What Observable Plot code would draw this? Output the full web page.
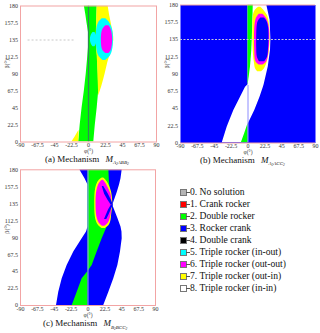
<!DOCTYPE html>
<html><head><meta charset="utf-8">
<script src="https://cdn.jsdelivr.net/npm/d3@7"></script>
<script src="https://cdn.jsdelivr.net/npm/@observablehq/plot@0.6"></script>
<style>
body{margin:0;background:#fff;}
#root{position:relative;width:320px;height:333px;overflow:hidden;font-family:"Liberation Serif","Times New Roman",serif;color:#111;}
.pan{position:absolute;}
.cap{position:absolute;font-size:9px;line-height:7px;white-space:nowrap;}
.cap i{font-style:italic;margin-left:4px;}
.sub{font-size:5px;position:relative;top:2.5px;font-style:italic;}
.sub2{font-size:3.5px;position:relative;top:1px;}
.leg{position:absolute;left:180px;font-size:9.6px;line-height:10px;white-space:nowrap;height:10px;}
.leg .sw{position:absolute;left:0;top:2px;width:5px;height:5px;border:0.6px solid #777;}
.leg .ln{position:absolute;left:6px;top:5px;width:4px;height:0;border-top:0.8px solid #555;}
.leg .tx{position:absolute;left:10px;top:0;}
</style></head>
<body><div id="root"></div>
<script>
const xTicks = [-90, -67.5, -45, -22.5, 0, 22.5, 45, 67.5, 90];
const yTicks = [0, 22.5, 45, 67.5, 90, 112.5, 135, 157.5, 180];
const legendLabels = ["0. No solution","1. Crank rocker","2. Double rocker","3. Rocker crank","4. Double crank","5. Triple rocker (in-out)","6. Triple rocker (out-out)","7. Triple rocker (out-in)","8. Triple rocker (in-in)"];
const legendColors = ["#b4b4b4","#ff0000","#00ff00","#0000ff","#000000","#00ffff","#ff00ff","#ffff00","#ffffff"];
const captions = ["(a) Mechanism", "(b) Mechanism", "(c) Mechanism"];
const capSubs = [["A","2","ABB","2"],["A","2","ACC","2"],["B","2","BCC","2"]];

// Panel (a): beta rows, left/right phi edges
const aGreenB = [0, 22.5, 45, 67.5, 90, 112.5, 125, 135, 145, 157.5, 168, 180];
const aGreenL = [-13, -11, -8.5, -5.5, -3, -1, 0, 0.5, 0, -2, -3.5, -5.5];
const aGreenR = [7, 9, 11.5, 13.5, 13, 12, 11, 11, 11, 11, 11.2, 11.5];
const aYel2B = [0, 7, 15];
const aYel2L = [-22, -17.5, -13];
const aYel2R = [-13, -12.5, -12.5];
const aYelB = [62, 75, 90, 105, 120, 135, 150, 165, 180];
const aYelL = [13.5, 13, 12.5, 12, 11, 10, 10.5, 11, 11.5];
const aYelR = [14, 18, 22, 25.5, 30, 33.5, 31.5, 28.5, 26];
const aCyanB = [108, 113, 120, 128, 135, 143, 150, 157, 163];
const aCyanL = [19, 14, 11.5, 10.5, 10, 10.3, 11, 13, 18];
const aCyanR = [23, 28.5, 31.5, 32.8, 33, 32.8, 31.5, 28.5, 23];
const aMagB = [117, 121, 128, 135, 142, 149, 154];
const aMagL = [23, 19, 17.3, 17, 17.3, 19, 23];
const aMagR = [27, 30, 31.5, 32, 31.5, 30, 27];
const aCyan2B = [126, 130, 135.5, 141, 145];
const aCyan2L = [6, 3.5, 2.5, 3.5, 6];
const aCyan2R = [8.5, 10.5, 11, 10.5, 8.5];
const aDashPhi = [-80, -18];
const refBeta = 135;

// Panel (b)
const bWhiteB = [0, 20.6, 25, 42.4, 59.7, 72.7, 76, 99, 121, 135, 160, 180];
const bWhiteL = [-34.4, -27.8, -26, -18.9, -10, -3.3, 0, 0, 0, 0, 0, 0];
const bWhiteR = [0, 0, 0.5, 9, 16, 20.5, 21.5, 27, 30, 30.5, 29.5, 25];
const bGreenB = [76, 82, 99, 120, 135, 160, 180];
const bGreenL = [0, 0, 0, 0, 0, 0, 0];
const bGreenR = [0, 1, 3.3, 5, 5.7, 6.5, 7];
const bGreen2B = [0, 12, 25];
const bGreen2L = [-9, -4.5, 0];
const bGreen2R = [0, 0, 0];
const bYelB = [93, 97, 105, 120, 135, 150, 165, 172, 177];
const bYelL = [13, 10, 8.5, 7, 6.5, 6.5, 7, 9, 14];
const bYelR = [18, 22, 25.5, 28.5, 29.5, 29, 26.5, 22, 17];
const bMagB = [101.7, 106, 120, 135, 150, 162, 168];
const bMagL = [15, 10.5, 9, 8.7, 9, 11, 15];
const bMagR = [20, 25, 28, 29, 28.5, 25, 20];
const bInB = [106, 112, 125, 135, 150, 158, 163];
const bInL = [15.5, 12.5, 11.6, 11.6, 12, 13.5, 17];
const bInR = [22, 26, 27.5, 28, 27.5, 25.5, 22];
const bLineB = [0, 75];

// Panel (c)
const cBlueB = [0, 17.7, 35.5, 53, 71, 88.7, 97.6, 104, 115, 133, 150, 160, 168, 180];
const cBlueL = [-42, -39, -34.4, -27.8, -19, -7.8, -2, 0, 0, 0, 0, 0, -4, -11];
const cBlueR = [21, 27.8, 34.4, 39.8, 43.3, 45.6, 45.3, 44, 40, 33, 39, 42, 44, 45.6];
const cGreenLoB = [0, 17.7, 35.5, 45];
const cGreenLoL = [-21, -14.4, -7.8, 0];
const cGreenLoR = [0, 0, 0, 0];
const cGreenUpB = [45, 53, 71, 88.7, 102, 115, 133, 150, 165, 180];
const cGreenUpL = [0, 0, 0, 0, 0, 0, 0, 0, 0, 0];
const cGreenUpR = [0, 5.6, 12.2, 18.9, 24.7, 29, 33, 30, 28.5, 27.8];
const cYelB = [102, 106, 112, 120, 135, 150, 160, 166, 169];
const cYelL = [19, 14, 11, 9.5, 9, 9.5, 11.5, 15, 19];
const cYelR = [23, 28, 30.5, 31.5, 33, 31.5, 28, 24, 21];
const cMagB = [105, 109, 115, 122, 135, 148, 157, 163, 166];
const cMagL = [19.5, 15, 12.5, 11.2, 10.7, 11.2, 13, 16, 19];
const cMagR = [22.5, 27, 29.5, 31, 32, 30.5, 26.5, 23, 20.5];
const cTonUpB = [133, 140, 148, 158];
const cTonUpL = [31, 26.5, 22, 19];
const cTonUpR = [34, 31, 27, 21];
const cTonLoB = [114, 120, 127, 133];
const cTonLoL = [22, 24.5, 27.5, 31];
const cTonLoR = [25, 28, 31, 34];
const cLineB = [0, 180];

const PINK = "#f2a4a4";
const C = legendColors;
const rows = (b, l, r) => b.map((v, i) => ({b: v, l: l[i], r: r[i]}));
const band = (b, l, r, fill, curve = "linear") =>
  Plot.areaX(rows(b, l, r), {y: "b", x1: "l", x2: "r", fill, curve, clip: true});
const vline = (bb, stroke, w) =>
  Plot.ruleX([{x: 0, y1: bb[0], y2: bb[1]}], {x: "x", y1: "y1", y2: "y2", stroke, strokeWidth: w, clip: true});

function panel(o, marks) {
  return Plot.plot({
    width: 160, height: o.height,
    marginLeft: 20, marginRight: o.mr, marginTop: o.mt, marginBottom: 14.5,
    style: {fontFamily: "Liberation Serif, Times New Roman, serif", fontSize: "6px", background: "transparent", color: "#333", overflow: "visible"},
    x: {domain: [-90, 90], ticks: xTicks, tickFormat: d => String(d), tickSize: 0, tickPadding: o.xp, label: null},
    y: {domain: [0, 180], ticks: yTicks, tickFormat: d => String(d), tickSize: 0, tickPadding: 2.5, label: null},
    marks: [
      ...marks,
      Plot.text(["φ(°)"], {text: d => d, frameAnchor: "bottom", dy: o.ld, fontSize: 5.5, fill: "#333"}),
      Plot.text(["β(°)"], {text: d => d, frameAnchor: "left", dx: -13, dy: o.yd, rotate: -90, fontSize: 6, fill: "#333"})
    ]
  });
}

const root = document.getElementById("root");
function place(el, left, top) { el.classList.add("pan"); el.style.left = left + "px"; el.style.top = top + "px"; root.appendChild(el); }

const pa = panel({height: 156, mr: 4, mt: 5.5, xp: 1, ld: 10.7, yd: -5.5}, [
  band(aGreenB, aGreenL, aGreenR, C[2]),
  band(aYel2B, aYel2L, aYel2R, C[7]),
  band(aYelB, aYelL, aYelR, C[7], "catmull-rom"),
  band(aCyanB, aCyanL, aCyanR, C[5], "catmull-rom"),
  band(aMagB, aMagL, aMagR, C[6], "catmull-rom"),
  band(aCyan2B, aCyan2L, aCyan2R, C[5], "catmull-rom"),
  vline([0, 180], "#2f8a55", 1.3),
  Plot.ruleY([{y: refBeta, x1: aDashPhi[0], x2: aDashPhi[1]}], {y: "y", x1: "x1", x2: "x2", stroke: "#c8c8c8", strokeDasharray: "2,2"}),
  Plot.frame({stroke: PINK})
]);
place(pa, 0, 0);

const pb = panel({height: 157, mr: 5, mt: 4.5, xp: 0.5, ld: 11.2, yd: -5.5}, [
  Plot.frame({fill: C[3]}),
  band(bWhiteB, bWhiteL, bWhiteR, "#ffffff"),
  band(bGreenB, bGreenL, bGreenR, C[2]),
  band(bGreen2B, bGreen2L, bGreen2R, C[2]),
  band(bYelB, bYelL, bYelR, C[7], "catmull-rom"),
  band(bMagB, bMagL, bMagR, C[6], "catmull-rom"),
  band(bInB, bInL, bInR, C[3], "catmull-rom"),
  vline(bLineB, "#8c8cff", 1),
  Plot.ruleY([refBeta], {stroke: "#c4c4dc", strokeDasharray: "2,1.5"}),
  Plot.ruleY([0, 180], {stroke: PINK})
]);
place(pb, 160, 0);

const pc = panel({height: 154.5, mr: 5, mt: 4.3, xp: 1.3, ld: 11.6, yd: -4}, [
  band(cBlueB, cBlueL, cBlueR, C[3]),
  band(cGreenLoB, cGreenLoL, cGreenLoR, C[2]),
  band(cGreenUpB, cGreenUpL, cGreenUpR, C[2]),
  band(cYelB, cYelL, cYelR, C[7], "catmull-rom"),
  band(cMagB, cMagL, cMagR, C[6], "catmull-rom"),
  band(cTonUpB, cTonUpL, cTonUpR, C[3]),
  band(cTonLoB, cTonLoL, cTonLoR, C[3]),
  vline(cLineB, "#9a9aff", 1),
  Plot.frame({stroke: PINK})
]);
place(pc, 0, 165);

// captions
const capPos = [[45, 155.6], [200, 156.6], [43, 320.2]];
captions.forEach((t, i) => {
  const d = document.createElement("div");
  d.className = "cap";
  d.style.left = capPos[i][0] + "px"; d.style.top = capPos[i][1] + "px";
  const s = capSubs[i];
  d.innerHTML = t + ' <i>M</i><span class="sub">' + s[0] + '<span class="sub2">' + s[1] + '</span>' + s[2] + '<span class="sub2">' + s[3] + '</span></span>';
  root.appendChild(d);
});

// legend
legendLabels.forEach((t, i) => {
  const d = document.createElement("div");
  d.className = "leg";
  d.style.top = (187.3 + i * 11.9) + "px";
  d.innerHTML = '<span class="sw" style="background:' + legendColors[i] + '"></span><span class="ln"></span><span class="tx">' + t + '</span>';
  root.appendChild(d);
});
</script></body></html>
